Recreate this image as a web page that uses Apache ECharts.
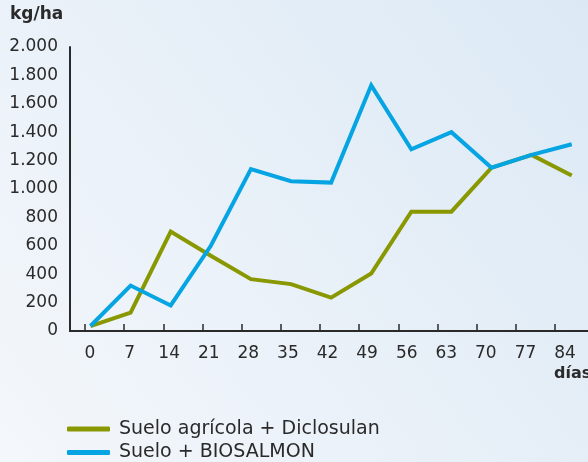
<!DOCTYPE html>
<html>
<head>
<meta charset="utf-8">
<script src="https://cdn.jsdelivr.net/npm/echarts@6/dist/echarts.min.js"></script>
<style>
    html, body { margin: 0; padding: 0; }
    #chart { width: 588px; height: 462px; }
</style>
</head>
<body>
<div id="chart"></div>
<script>
    // días de muestreo
    const days = [0, 7, 14, 21, 28, 35, 42, 49, 56, 63, 70, 77, 84]
    // kg/ha
    const diclosulan = [35, 130, 700, 530, 365, 330, 235, 405, 840, 840, 1150, 1240, 1095]
    const biosalmon = [35, 320, 180, 600, 1140, 1055, 1045, 1730, 1280, 1400, 1150, 1240, 1315]
    const yTicks = ['0', '200', '400', '600', '800', '1.000', '1.200', '1.400', '1.600', '1.800', '2.000']

    const font = 'DejaVu Sans'
    const ink = '#2a2a2a'

    const chart = echarts.init(document.getElementById('chart'))

    const option = {
        backgroundColor: new echarts.graphic.LinearGradient(0, 1, 1, 0, [
            { offset: 0, color: '#f4f7fb' },
            { offset: 1, color: '#dce9f5' }
        ]),
        textStyle: { fontFamily: font },
        animation: false,
        grid: {
            left: 70,
            right: 0,
            top: 47,
            bottom: 131
        },
        legend: {
            orient: 'vertical',
            left: 67,
            top: 414,
            height: 80,
            padding: 0,
            itemWidth: 43,
            itemHeight: 5,
            itemGap: -6.5,
            icon: 'roundRect',
            textStyle: {
                fontFamily: font,
                fontSize: 19,
                lineHeight: 19,
                color: ink,
                // texto un poco más arriba que la línea
                padding: [0, 0, 11, 4]
            },
            data: ['Suelo agrícola + Diclosulan', 'Suelo + BIOSALMON']
        },
        graphic: [
            {
                type: 'text',
                left: 10,
                top: 6,
                style: { text: 'kg/ha', font: 'bold 17px "DejaVu Sans"', fill: ink }
            },
            {
                type: 'text',
                left: 554,
                top: 366,
                style: { text: 'días', font: 'bold 16px "DejaVu Sans"', fill: ink }
            }
        ],
        xAxis: [
            {
                // eje de datos
                type: 'value',
                position: 'bottom',
                min: -3.578,
                max: 86.84,
                axisLine: { show: true, lineStyle: { color: ink, width: 2 } },
                axisTick: { show: false },
                axisLabel: { show: false },
                splitLine: { show: false }
            },
            {
                // marcas
                type: 'value',
                position: 'bottom',
                min: -2.681,
                max: 89.9,
                axisLine: { show: false },
                axisTick: {
                    show: true,
                    inside: true,
                    length: 7,
                    customValues: days,
                    lineStyle: { color: ink, width: 1.5 }
                },
                axisLabel: { show: false },
                splitLine: { show: false }
            },
            {
                // etiquetas
                type: 'value',
                position: 'bottom',
                min: -3.537,
                max: 88.06,
                axisLine: { show: false },
                axisTick: { show: false },
                axisLabel: {
                    customValues: days,
                    margin: 14,
                    fontSize: 17,
                    color: ink
                },
                splitLine: { show: false }
            }
        ],
        yAxis: {
            type: 'value',
            min: 0,
            max: 2000,
            interval: 200,
            axisLine: { show: true, onZero: false, lineStyle: { color: ink, width: 2 } },
            axisTick: { show: false },
            axisLabel: {
                margin: 12,
                fontSize: 17,
                color: ink,
                padding: [4, 0, 0, 0],
                formatter: function(v) {
                    return yTicks[Math.round(v / 200)]
                }
            },
            splitLine: { show: false }
        },
        series: [
            {
                name: 'Suelo agrícola + Diclosulan',
                type: 'line',
                xAxisIndex: 0,
                data: days.map((d, i) => [d, diclosulan[i]]),
                showSymbol: false,
                itemStyle: { color: '#899800' },
                lineStyle: { width: 4, color: '#899800', join: 'miter' }
            },
            {
                name: 'Suelo + BIOSALMON',
                type: 'line',
                xAxisIndex: 0,
                data: days.map((d, i) => [d, biosalmon[i]]),
                showSymbol: false,
                itemStyle: { color: '#05a4e2' },
                lineStyle: { width: 4, color: '#05a4e2', join: 'miter' }
            }
        ]
    }

    chart.setOption(option)
    window.addEventListener('resize', () => {
        chart.resize()
    })
</script>
</body>
</html>
